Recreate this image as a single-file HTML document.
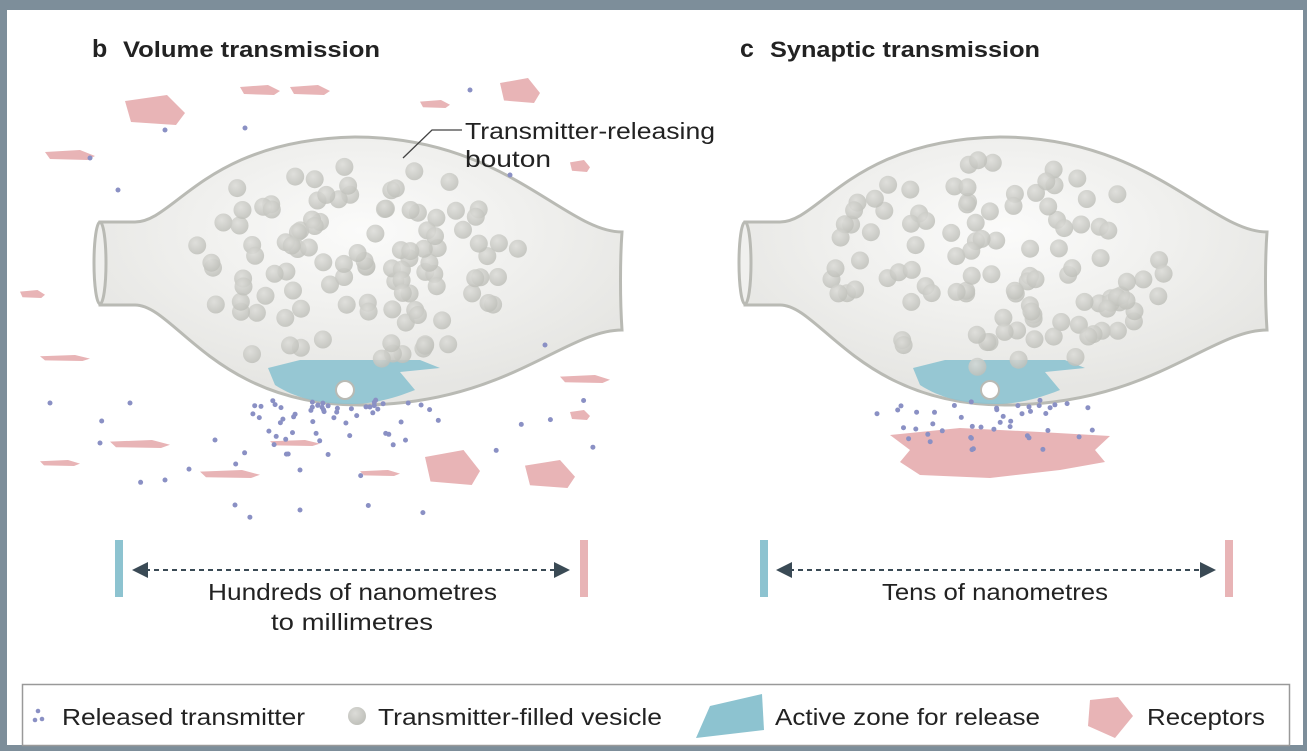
<!DOCTYPE html>
<html><head><meta charset="utf-8"><style>
html,body{margin:0;padding:0;background:#7d8e9a;}
#c{position:absolute;left:7px;top:10px;width:1296px;height:735px;background:#fff;}
svg{position:absolute;left:0;top:0;}
text{font-family:"Liberation Sans",sans-serif;fill:#222;}
</style></head><body>
<div id="c"></div>
<svg id="s" width="1307" height="751" viewBox="0 0 1307 751" xmlns="http://www.w3.org/2000/svg">
<defs>
<radialGradient id="bg" cx="0.5" cy="0.35" r="0.6"><stop offset="0" stop-color="#fbfbfa"/><stop offset="1" stop-color="#e6e6e3"/></radialGradient>
<radialGradient id="vg" cx="0.4" cy="0.35" r="0.7"><stop offset="0" stop-color="#dcdcd8"/><stop offset="1" stop-color="#bdbeb8"/></radialGradient>
<marker id="ah" markerWidth="8" markerHeight="8" refX="6" refY="4" orient="auto-start-reverse"><path d="M0,0 L8,4 L0,8 Z" fill="#3a4a55"/></marker>
</defs>
<g id="recB" fill="#e8b4b6"></g>
<g id="bout"></g>
<text x="92" y="57" font-size="25" font-weight="bold">b</text>
<text x="123" y="57" font-size="22" font-weight="bold" textLength="257" lengthAdjust="spacingAndGlyphs">Volume transmission</text>
<text x="740" y="57" font-size="25" font-weight="bold">c</text>
<text x="770" y="57" font-size="22" font-weight="bold" textLength="270" lengthAdjust="spacingAndGlyphs">Synaptic transmission</text>
<path d="M403,158 L432,130 L462,130" fill="none" stroke="#444" stroke-width="1.3"/>
<text x="465" y="139" font-size="23" textLength="250" lengthAdjust="spacingAndGlyphs">Transmitter-releasing</text>
<text x="465" y="167" font-size="23" textLength="86" lengthAdjust="spacingAndGlyphs">bouton</text>
<rect x="115" y="540" width="8" height="57" fill="#8dc3d0"/>
<rect x="580" y="540" width="8" height="57" fill="#e8b4b6"/>
<line x1="136" y1="570" x2="566" y2="570" stroke="#3a4a55" stroke-width="2" stroke-dasharray="5,4" marker-start="url(#ah)" marker-end="url(#ah)"/>
<text x="208" y="600" font-size="23" textLength="289" lengthAdjust="spacingAndGlyphs">Hundreds of nanometres</text>
<text x="271" y="630" font-size="23" textLength="162" lengthAdjust="spacingAndGlyphs">to millimetres</text>
<rect x="760" y="540" width="8" height="57" fill="#8dc3d0"/>
<rect x="1225" y="540" width="8" height="57" fill="#e8b4b6"/>
<line x1="780" y1="570" x2="1212" y2="570" stroke="#3a4a55" stroke-width="2" stroke-dasharray="5,4" marker-start="url(#ah)" marker-end="url(#ah)"/>
<text x="882" y="600" font-size="23" textLength="226" lengthAdjust="spacingAndGlyphs">Tens of nanometres</text>
<rect x="22.5" y="684.5" width="1267" height="61" fill="#fff" stroke="#999" stroke-width="1.5"/>
<circle cx="38" cy="711" r="2.3" fill="#8a90c4"/><circle cx="42" cy="719" r="2.3" fill="#8a90c4"/><circle cx="35" cy="720" r="2.3" fill="#8a90c4"/>
<text x="62" y="725" font-size="23" textLength="243" lengthAdjust="spacingAndGlyphs">Released transmitter</text>
<circle cx="357" cy="716" r="9" fill="url(#vg)"/>
<text x="378" y="725" font-size="23" textLength="284" lengthAdjust="spacingAndGlyphs">Transmitter-filled vesicle</text>
<path d="M710,706 L762,694 L764,730 L696,738 Z" fill="#8dc3d0"/>
<text x="775" y="725" font-size="23" textLength="265" lengthAdjust="spacingAndGlyphs">Active zone for release</text>
<path d="M1090,700 L1118,697 L1133,716 L1115,738 L1088,726 Z" fill="#e8b4b6"/>
<text x="1147" y="725" font-size="23" textLength="118" lengthAdjust="spacingAndGlyphs">Receptors</text>
</svg>
<script>
var S="http://www.w3.org/2000/svg";
function el(p,t,a){var e=document.createElementNS(S,t);for(var k in a)e.setAttribute(k,a[k]);p.appendChild(e);return e;}
var seed=7;function r(){seed=(seed*16807)%2147483647;return seed/2147483647;}
var rec=document.getElementById('recB');var bt=document.getElementById('bout');
var rp=[[125,95,60,30],[500,78,40,25],[45,150,50,10],[240,85,40,10],[290,85,40,10],[420,100,30,8],[570,160,20,12],[20,290,25,8],[40,355,50,6],[110,440,60,8],[200,470,60,8],[425,450,55,35],[525,460,50,28],[560,375,50,8],[570,410,20,10],[40,460,40,6],[360,470,40,6],[270,440,50,6]];
rp.forEach(function(q){var x=q[0],y=q[1],w=q[2],h=q[3];el(rec,'path',{d:'M'+x+','+(y+h*0.2)+' L'+(x+w*0.7)+','+y+' L'+(x+w)+','+(y+h*0.6)+' L'+(x+w*0.85)+','+(y+h)+' L'+(x+w*0.1)+','+(y+h*0.9)+'Z'});});
el(rec,'path',{d:'M890,435 L960,428 L1040,432 L1110,436 L1095,450 L1105,462 L1060,470 L990,478 L920,475 L900,462 L910,450 Z'});
function bouton(ox,spread){
 var g=el(bt,'g',{transform:'translate('+ox+',0)'});
 el(g,'path',{d:'M100,222 L135,222 C175,222 205,140 355,137 C505,137 565,232 622,232 C620,260 620,300 622,330 C565,330 505,405 360,405 C215,405 175,305 135,305 L100,305 Z',fill:'url(#bg)',stroke:'#b9bab4','stroke-width':3});
 el(g,'ellipse',{cx:100,cy:263,rx:6,ry:41,fill:'#f0f0ee',stroke:'#b9bab4','stroke-width':3});
 el(g,'path',{d:'M268,368 L300,360 L420,360 L440,368 L400,372 L415,390 C390,400 370,404 350,404 C320,404 295,398 275,385 Z',fill:'#8dc3d0',opacity:0.9});
 var n=0;while(n<110){var x=170+r()*350,y=160+r()*210;var dx=(x-350)/180,dy=(y-265)/115;if(dx*dx+dy*dy<0.9&&!(y>370&&x>330&&x<370)){el(g,'circle',{cx:x.toFixed(1),cy:y.toFixed(1),r:9,fill:'url(#vg)',opacity:0.85});n++;}}
 el(g,'circle',{cx:345,cy:390,r:9,fill:'#fff',stroke:'#b9bab4','stroke-width':2});
 var m=spread?70:45;for(var i=0;i<m;i++){var a=r()*Math.PI,d=spread?(15+r()*(i<35?80:220)):(10+r()*60);var x=345+Math.cos(a)*d*(spread?1.2:1.8),y=400+Math.sin(a)*d*(spread?0.55:0.8);el(g,'circle',{cx:x.toFixed(1),cy:y.toFixed(1),r:2.5,fill:'#8a90c4'});}
}
bouton(0,true);bouton(645,false);
var sc=[[165,130],[245,128],[90,158],[118,190],[470,90],[510,175],[545,345],[50,403],[130,403],[100,443],[165,480],[235,505],[300,510],[300,470],[215,440]];
sc.forEach(function(p){el(bt,'circle',{cx:p[0],cy:p[1],r:2.5,fill:'#8a90c4'});});
</script>
</body></html>
